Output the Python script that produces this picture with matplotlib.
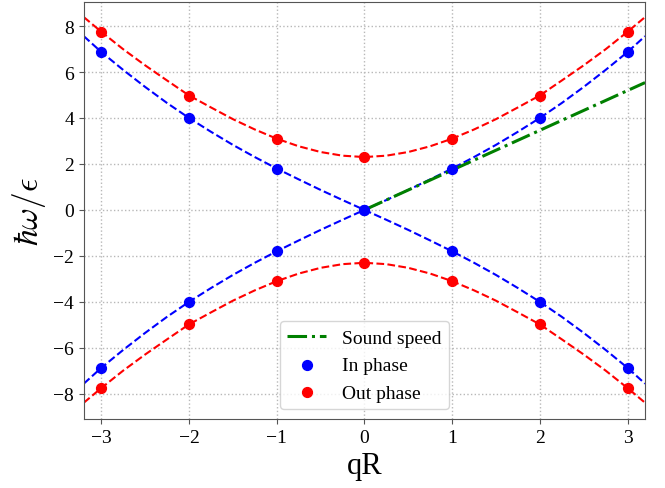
import numpy as np
import matplotlib
matplotlib.use("Agg")
import matplotlib.pyplot as plt

plt.rcParams['font.family'] = ['Liberation Serif', 'DejaVu Serif']
plt.rcParams['mathtext.fontset'] = 'cm'

# curve values (positive branch, q >= 0)
q_curve = [0.0, 0.25, 0.5, 0.75, 1.0, 1.25, 1.5, 1.75, 2.0, 2.25, 2.5, 2.75, 3.0, 3.2]
in_curve = [0.0, 0.43, 0.87, 1.33, 1.80, 2.30, 2.83, 3.40, 4.00, 4.65, 5.35, 6.09, 6.87, 7.56]
out_curve = [2.30, 2.36, 2.52, 2.77, 3.10, 3.50, 3.95, 4.46, 4.98, 5.63, 6.29, 6.99, 7.75, 8.39]

# computed points
q_pts = [-3, -2, -1, 0, 1, 2, 3]
in_pts = [6.87, 4.00, 1.80, 0.0, 1.80, 4.00, 6.87]
out_pts = [7.75, 4.97, 3.08, 2.31, 3.08, 4.97, 7.75]

# sound speed line
q_sound = [0.0, 3.2]
w_sound = [0.0, 5.54]

fig = plt.figure(figsize=(6.65, 4.89), dpi=100)
ax = fig.add_axes([0.126, 0.141, 0.844, 0.853])

qc = np.array(q_curve)
q_full = np.concatenate([-qc[::-1], qc[1:]])
in_full = np.concatenate([np.array(in_curve)[::-1], np.array(in_curve)[1:]])
out_full = np.concatenate([np.array(out_curve)[::-1], np.array(out_curve)[1:]])

for s in (1, -1):
    ax.plot(q_full, s * in_full, '--', color='blue', lw=1.5)
    ax.plot(q_full, s * out_full, '--', color='red', lw=1.5)

ax.plot(q_sound, w_sound, '-.', color='green', lw=2.2, label='Sound speed')
ax.scatter(q_pts, in_pts, s=50, color='blue', zorder=3, label='In phase')
ax.scatter(q_pts, -np.array(in_pts), s=50, color='blue', zorder=3)
ax.scatter(q_pts, out_pts, s=50, color='red', zorder=3, label='Out phase')
ax.scatter(q_pts, -np.array(out_pts), s=50, color='red', zorder=3)

ax.set_xlim(-3.2, 3.2)
ax.set_ylim(-9.1, 9.05)
ax.set_xticks([-3, -2, -1, 0, 1, 2, 3])
ax.set_yticks([-8, -6, -4, -2, 0, 2, 4, 6, 8])
ax.tick_params(labelsize=14, color='#555555')
for sp in ax.spines.values():
    sp.set_color('#555555')
ax.grid(True, linestyle=':', color='#b8b8b8', lw=1)
ax.set_axisbelow(True)

ax.set_xlabel('qR', fontsize=22)
ax.set_ylabel(r'$\hbar\omega/\epsilon$', fontsize=24)
ax.legend(loc='lower center', fontsize=14)

fig.savefig('out.png', dpi=100)
